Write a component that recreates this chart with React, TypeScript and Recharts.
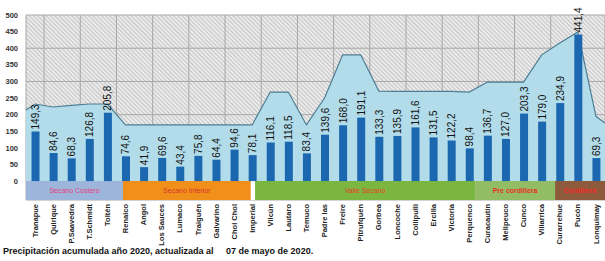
import React from "react";
import {
  ComposedChart,
  Bar,
  Area,
  XAxis,
  YAxis,
  CartesianGrid,
  ReferenceArea,
  LabelList,
} from "recharts";

const stations = [
  "Tranapue", "Quirique", "P.Saavedra", "T.Schmidt", "Toltén",
  "Renaico", "Angol", "Los Sauces", "Lumaco", "Traiguén", "Galvarino", "Chol Chol",
  "Imperial",
  "Vilcún", "Lautaro", "Temuco", "Padre las", "Freire", "Pitrufquén", "Gorbea",
  "Loncoche", "Collipulli", "Ercilla", "Victoria",
  "Perquenco", "Curacautín", "Melipeuco", "Cunco", "Villarrica",
  "Curarrehue", "Pucón", "Lonquimay",
];

// precipitación acumulada 2020 (mm)
const precip = [
  149.3, 84.6, 68.3, 126.8, 205.8,
  74.6, 41.9, 69.6, 43.4, 75.8, 64.4, 94.6,
  78.1,
  116.1, 118.5, 83.4, 139.6, 168.0, 191.1, 133.3,
  135.9, 161.6, 131.5, 122.2,
  98.4, 136.7, 127.0, 203.3, 179.0,
  234.9, 441.4, 69.3,
];

// año normal (área celeste)
const normal = [
  232, 223, 228, 232, 232,
  169, 169, 169, 169, 169, 169, 169,
  169,
  268, 268, 169, 250, 380, 380, 271,
  270, 270, 270, 270,
  268, 298, 298, 298, 380,
  416, 449, 195,
];
const normalStart = 214;
const normalEnd = 175;

const yTicks = [0, 50, 100, 150, 200, 250, 300, 350, 400, 450, 500];

const groups = [
  { name: "Secano Costero", from: -0.5, to: 4.86, fill: "#9db5da", text: "#e63c82", bold: false },
  { name: "Secano Interior", from: 4.86, to: 11.92, fill: "#f0901a", text: "#d8352a", bold: false },
  { name: "Valle Secano", from: 12.16, to: 24.32, fill: "#7ab640", text: "#e8402a", bold: false },
  { name: "Pre cordillera", from: 24.32, to: 28.74, fill: "#93bd64", text: "#e8302a", bold: true },
  { name: "Cordillera", from: 28.74, to: 31.5, fill: "#8d5b3b", text: "#f02a2a", bold: true },
];

const rows = [
  { i: -0.5, normal: normalStart },
  ...stations.map((s, k) => ({ i: k, name: s, pp: precip[k], normal: normal[k] })),
  { i: 31.5, normal: normalEnd },
];

const stationTicks = stations.map((_, k) => k);
const gridTicks = [...stations.map((_, k) => k - 0.5), 31.5];

const FONT = "'Liberation Sans', Arial, sans-serif";

function StationTick(props: any) {
  const { x, y, payload } = props;
  return (
    <g transform={`translate(${x},${y})`}>
      <text
        transform="rotate(-90)"
        textAnchor="end"
        dy="0.35em"
        fontSize={7.5}
        fontWeight="bold"
        fill="#222"
        fontFamily={FONT}
      >
        {stations[payload.value]}
      </text>
    </g>
  );
}

function ValueLabel(props: any) {
  const { x, y, width, value } = props;
  if (value == null) return null;
  const cx = x + width / 2;
  const cy = y - 2;
  return (
    <text
      x={cx}
      y={cy}
      transform={`rotate(-90 ${cx} ${cy})`}
      textAnchor="start"
      dy="0.35em"
      fontSize={10}
      fill="#111"
      fontFamily={FONT}
    >
      {Number(value).toFixed(1).replace(".", ",")}
    </text>
  );
}

export default function App() {
  return (
    <div style={{ position: "absolute", left: 0, top: 0, width: 605, height: 261, background: "#fff" }}>
      <ComposedChart
        width={605}
        height={261}
        data={rows}
        margin={{ top: 15, right: 0, bottom: 0, left: 0 }}
      >
        <defs>
          <pattern id="hatch" width="3" height="3" patternUnits="userSpaceOnUse" patternTransform="rotate(-45)">
            <rect width="3" height="3" fill="#ebebeb" />
            <line x1="0" y1="0" x2="0" y2="3" stroke="#b4b4b4" strokeWidth="1.4" />
          </pattern>
        </defs>
        <XAxis
          xAxisId="grid"
          type="number"
          dataKey="i"
          domain={[-0.5, 31.5]}
          ticks={gridTicks}
          hide
        />
        <XAxis
          type="number"
          dataKey="i"
          domain={[-0.5, 31.5]}
          ticks={stationTicks}
          interval={0}
          height={61}
          axisLine={false}
          tickLine={false}
          tickSize={0}
          tickMargin={4}
          tick={<StationTick />}
        />
        <YAxis
          type="number"
          domain={[-57, 500]}
          ticks={yTicks}
          width={26}
          axisLine={false}
          tickLine={false}
          tick={{ fontSize: 7.5, fontWeight: "bold", fill: "#333", fontFamily: FONT }}
        />
        <CartesianGrid xAxisId="grid" stroke="#a8a8a8" fill="url(#hatch)" fillOpacity={1} />
        <ReferenceArea x1={-0.5} x2={31.5} y1={-57} y2={0} fill="#ffffff" fillOpacity={1} stroke="none" />
        {groups.map((g) => (
          <ReferenceArea
            key={g.name}
            x1={g.from}
            x2={g.to}
            y1={-57}
            y2={0}
            fill={g.fill}
            fillOpacity={1}
            stroke="none"
            label={{
              value: g.name,
              position: "center",
              fill: g.text,
              fontSize: 7,
              fontWeight: g.bold ? "bold" : "normal",
              fontFamily: FONT,
            }}
          />
        ))}
        <Area
          type="linear"
          dataKey="normal"
          baseValue={0}
          fill="#b2dcea"
          fillOpacity={1}
          stroke="#4d7d93"
          strokeWidth={1.2}
          dot={false}
          activeDot={false}
          isAnimationActive={false}
        />
        <Bar dataKey="pp" fill="#1c68b0" barSize={8} isAnimationActive={false}>
          <LabelList dataKey="pp" content={<ValueLabel />} />
        </Bar>
      </ComposedChart>
      <div
        style={{
          position: "absolute",
          left: 3,
          top: 246,
          fontFamily: FONT,
          fontSize: 9,
          fontWeight: "bold",
          color: "#111",
          whiteSpace: "pre",
        }}
      >
        {"Precipitación acumulada año 2020, actualizada al     07 de mayo de 2020."}
      </div>
    </div>
  );
}
